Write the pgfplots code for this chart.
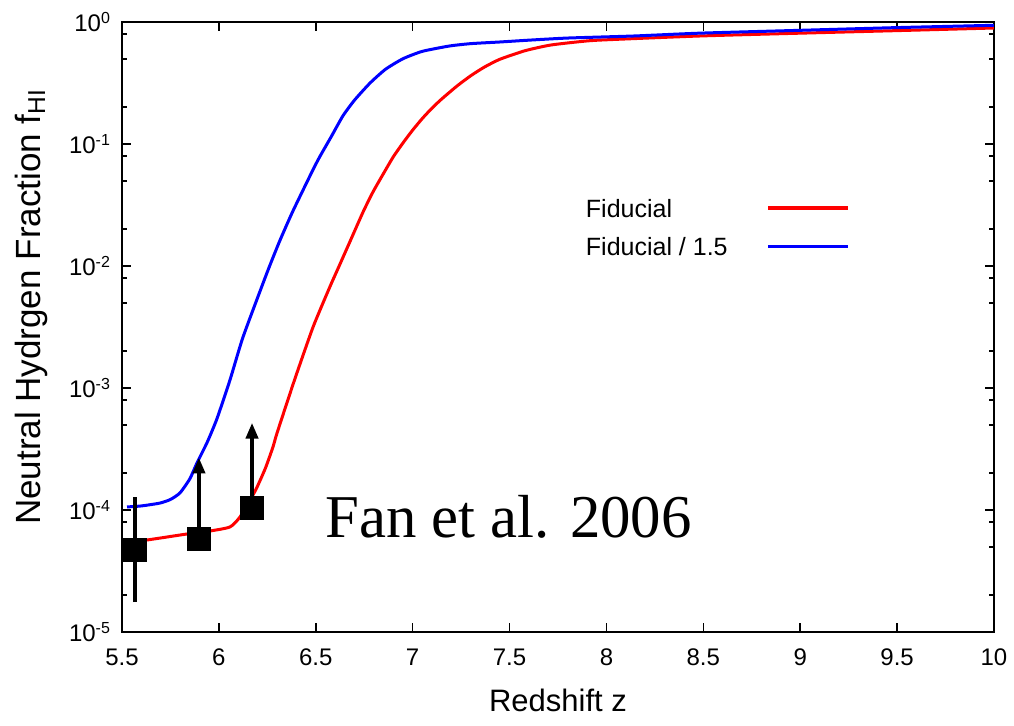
\documentclass[border=0pt]{standalone}
\usepackage{fontspec}
\setmainfont{Liberation Sans}
\newfontfamily\timesfont{Liberation Serif}
\usepackage{pgfplots}
\pgfplotsset{compat=1.18}
\usetikzlibrary{arrows.meta}

\begin{document}
\begin{tikzpicture}
\begin{axis}[
  name=ax,
  scale only axis,
  width=436pt, height=305pt,
  xmin=5.5, xmax=10,
  ymode=log, ymin=1e-5, ymax=1,
  xtick={5.5,6,6.5,7,7.5,8,8.5,9,9.5,10},
  xticklabels={5.5,6,6.5,7,7.5,8,8.5,9,9.5,10},
  ytick={1e-5,1e-4,1e-3,1e-2,1e-1,1},
  yticklabels={10\textsuperscript{-5},10\textsuperscript{-4},10\textsuperscript{-3},10\textsuperscript{-2},10\textsuperscript{-1},10\textsuperscript{0}},
  minor ytick={2e-5,5e-5,8e-5,2e-4,5e-4,8e-4,2e-3,5e-3,8e-3,2e-2,5e-2,8e-2,2e-1,5e-1,8e-1},
  tick align=inside,
  xtick pos=both, ytick pos=both,
  major tick length=4.5pt, minor tick length=2.5pt,
  every tick/.style={black, line width=0.8pt},
  axis line style={line width=1.2pt},
  ticklabel style={font=\fontsize{12}{14}\selectfont},
  /pgf/number format/assume math mode=true,
  xticklabel style={yshift=-5pt},
  yticklabel style={xshift=-2pt},
  xlabel={Redshift z},
  xlabel style={at={(axis description cs:0.5,-0.131)}, anchor=base, font=\fontsize{15.5}{18}\selectfont},
  ylabel={Neutral Hydrgen Fraction f\textsubscript{HI}},
  ylabel style={at={(axis description cs:-0.094,0.533)}, anchor=base, font=\fontsize{17.5}{20}\selectfont},
  legend style={draw=none, fill=none, at={(axis description cs:0.527,0.716)}, anchor=north west,
    inner sep=0pt, font=\fontsize{12.5}{15}\selectfont, row sep=4.5pt},
  legend cell align=left,
  legend plot pos=right,
  legend image code/.code={\draw[#1, line width=1.8pt] (0pt,1pt) -- (40pt,1pt);},
  /tikz/every odd column/.append style={column sep=17.5pt},
]

% fiducial reionization history
\addplot[red, line width=1.5pt, smooth, tension=0.35] coordinates {
  (5.53,5.5e-5) (5.629,5.68e-5) (5.835,6.36e-5) (5.954,6.73e-5) (6.057,7.26e-5)
  (6.109,8.77e-5) (6.176,1.33e-4) (6.197,1.54e-4) (6.24,2.2e-4) (6.279,3.28e-4)
  (6.30,4.27e-4) (6.39,1.16e-3) (6.486,3.16e-3) (6.573,6.76e-3) (6.615,9.55e-3)
  (6.676,1.58e-2) (6.744,2.77e-2) (6.795,4.04e-2) (6.85,5.75e-2) (6.90,7.85e-2)
  (6.95,0.102) (7.0,0.130) (7.05,0.162) (7.1,0.197) (7.15,0.234) (7.229,0.299)
  (7.30,0.363) (7.37,0.427) (7.45,0.495) (7.58,0.582) (7.708,0.646) (7.85,0.687)
  (7.966,0.711) (8.48,0.768) (9.0,0.81) (9.5,0.85) (10.0,0.893)
};
\addlegendentry{Fiducial}

% emissivity reduced by 1.5
\addplot[blue, line width=1.5pt, smooth, tension=0.35] coordinates {
  (5.526,1.06e-4) (5.6,1.08e-4) (5.696,1.14e-4) (5.75,1.22e-4) (5.799,1.38e-4)
  (5.85,1.8e-4) (5.887,2.43e-4) (5.94,3.6e-4) (5.99,5.6e-4) (6.057,1.16e-3)
  (6.124,2.6e-3) (6.228,7.24e-3) (6.264,1.02e-2) (6.315,1.62e-2) (6.382,2.82e-2)
  (6.486,6.17e-2) (6.522,7.94e-2) (6.58,0.115) (6.64,0.17) (6.70,0.229) (6.78,0.316)
  (6.86,0.41) (6.95,0.5) (7.05,0.575) (7.19,0.636) (7.3,0.665) (7.45,0.686)
  (7.6,0.71) (7.8,0.739) (8.14,0.768) (8.48,0.81) (9.0,0.855) (9.5,0.9) (10.0,0.94)
};
\addlegendentry{Fiducial / 1.5}

% quasar constraints: error bar and lower limits
\addplot[black, line width=2pt, forget plot] coordinates {(5.567,1.76e-5) (5.567,1.28e-4)};
\addplot[black, line width=2pt, -{Triangle[width=6pt,length=8pt]}, forget plot]
  coordinates {(5.897,5.8e-5) (5.897,2.7e-4)};
\addplot[black, line width=2pt, -{Triangle[width=6pt,length=8pt]}, forget plot]
  coordinates {(6.171,1.04e-4) (6.171,5.2e-4)};
\addplot[only marks, mark=square*, mark size=5.7pt, mark options={fill=black, draw=black, line width=0.4pt}, forget plot]
  coordinates {(5.567,4.7e-5) (5.897,5.8e-5) (6.171,1.04e-4)};

\node[anchor=base west, inner sep=0pt, font=\timesfont\fontsize{30.4}{36}\selectfont]
  at (axis cs:6.547,6.0e-5) {Fan et al. 2006};
\end{axis}
\pgfresetboundingbox
\path ([shift={(-61pt,-46.5pt)}]ax.south west) rectangle ([shift={(10pt,11pt)}]ax.north east);
\end{tikzpicture}
\end{document}
